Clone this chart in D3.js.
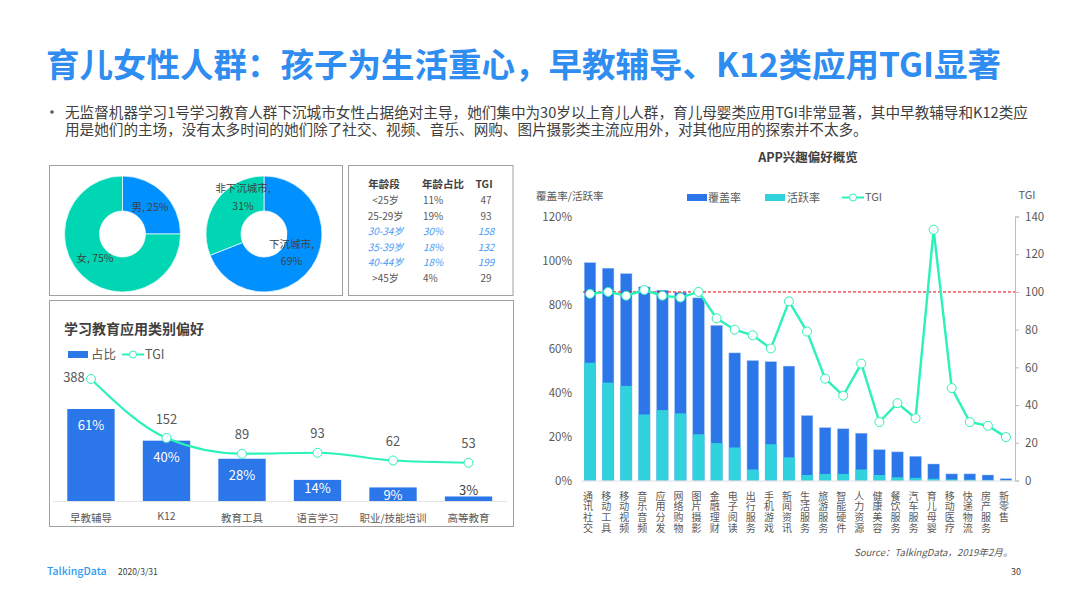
<!DOCTYPE html>
<html>
<head>
<meta charset="utf-8">
<script src="https://d3js.org/d3.v7.min.js"></script>
<style>
body { margin: 0; background: #fff; }
text { font-family: "Noto Sans CJK SC", "Open Sans", sans-serif; }
</style>
</head>
<body>
<svg id="page"></svg>
<script>
// right chart data
var appCategories = ["通讯社交","移动工具","移动视频","音乐音频","应用分发","网络购物","图片摄影","金融理财","电子阅读","出行服务","手机游戏","新闻资讯","生活服务","旅游服务","智能硬件","人力资源","健康美容","餐饮服务","汽车服务","育儿母婴","移动医疗","快递物流","房产服务","新零售"];
var coverage = [99,96.5,94,88,86.5,85.5,83,70.5,58,54.5,54,52,29.5,24,23.5,21.5,14,13,11,7.5,3,3,2.5,0.8];
var active = [53.5,44.5,43,30,32,30.5,21,17,15,5,16.5,10.5,2.5,3,3,5,2.5,1.5,1.2,0.8,0.5,0.4,0.3,0.1];
var appTgi = [99,100,98,101,98,97,100,86,80,77,70,95,79,54,45,62,31,41,33,133,49,31,29,23];
var leftTicks = [0,20,40,60,80,100,120];
var rightTicks = [0,20,40,60,80,100,120,140];

// education chart data
var eduCategories = ["早教辅导","K12","教育工具","语言学习","职业/技能培训","高等教育"];
var eduShare = [61,40,28,14,9,3];
var eduTgi = [388,152,89,93,62,53];

// donuts
var genderLabels = ["男, 25%","女, 75%"];
var genderValues = [25,75];
var cityValues = [69,31];

// age table
var ageHeader = ["年龄段","年龄占比","TGI"];
var ageGroups = ["<25岁","25-29岁","30-34岁","35-39岁","40-44岁",">45岁"];
var ageShare = ["11%","19%","30%","18%","18%","4%"];
var ageTgi = [47,93,158,132,199,29];
var ageHighlight = [false,false,true,true,true,false];

var blue = "#2b76e8", cyan = "#30d2de", mint = "#2af2b8", grey = "#595959", dark = "#404040";

var svg = d3.select("#page").attr("width", 1066).attr("height", 599);
svg.append("rect").attr("width", 1066).attr("height", 599).attr("fill", "#fff");

// title and intro
svg.append("text").attr("x", 46).attr("y", 77).attr("font-size", 33.5).attr("font-weight", 700)
	.attr("fill", "#2f8cf0").text("育儿女性人群：孩子为生活重心，早教辅导、K12类应用TGI显著");
svg.append("circle").attr("cx", 52).attr("cy", 112).attr("r", 1.8).attr("fill", grey);
svg.append("text").attr("x", 65).attr("y", 118).attr("font-size", 14.6).attr("fill", dark)
	.text("无监督机器学习1号学习教育人群下沉城市女性占据绝对主导，她们集中为30岁以上育儿人群，育儿母婴类应用TGI非常显著，其中早教辅导和K12类应");
svg.append("text").attr("x", 65).attr("y", 135).attr("font-size", 14.6).attr("fill", dark)
	.text("用是她们的主场，没有太多时间的她们除了社交、视频、音乐、网购、图片摄影类主流应用外，对其他应用的探索并不太多。");

// panel borders
[[49.5,165.5,293,130],[348.5,165.5,164.5,130],[49.5,300.5,464,226]].forEach(function(b) {
	svg.append("rect").attr("x", b[0]).attr("y", b[1]).attr("width", b[2]).attr("height", b[3])
		.attr("fill", "none").attr("stroke", "#a0a0a0").attr("stroke-width", 1);
});

// donuts
var pie = d3.pie().sort(null);
var arc = d3.arc().innerRadius(23).outerRadius(58);
function drawDonut(cx, values, colors) {
	svg.append("g").attr("transform", "translate(" + cx + ",234)")
		.selectAll("path").data(pie(values)).enter().append("path")
		.attr("d", arc).attr("fill", function(d, i) { return colors[i]; })
		.attr("stroke", "#fff").attr("stroke-width", 0.7);
}
drawDonut(122.5, genderValues, ["#0091ff", "#00d6b4"]);
drawDonut(264, cityValues, ["#0091ff", "#00d6b4"]);
function donutText(x, y, s) {
	svg.append("text").attr("x", x).attr("y", y).attr("font-size", 10.5).attr("fill", dark)
		.attr("text-anchor", "middle").text(s);
}
donutText(150, 211, genderLabels[0]);
donutText(95, 262, genderLabels[1]);
donutText(243, 192, "非下沉城市,");
donutText(243, 210, "31%");
donutText(291.5, 247.5, "下沉城市,");
donutText(291.5, 265, "69%");

// age table
var colX = [384, 443, 484];
ageHeader.forEach(function(h, i) {
	svg.append("text").attr("x", colX[i]).attr("y", 188).attr("font-size", 10.5).attr("font-weight", 700)
		.attr("fill", dark).attr("text-anchor", "middle").text(h);
});
var rowY = d3.scalePoint().domain(d3.range(6)).range([204, 282]);
var ageColX = [385.5, 423, 486];
var ageColAnchor = ["middle", "start", "middle"];
ageGroups.forEach(function(g, i) {
	[g, ageShare[i], ageTgi[i]].forEach(function(v, j) {
		svg.append("text").attr("x", ageColX[j]).attr("y", rowY(i)).attr("font-size", 10)
			.attr("text-anchor", ageColAnchor[j])
			.attr("font-style", ageHighlight[i] ? "italic" : "normal")
			.attr("fill", ageHighlight[i] ? "#4a9af5" : grey).text(v);
	});
});

// education chart
svg.append("text").attr("x", 64).attr("y", 334).attr("font-size", 14).attr("font-weight", 700)
	.attr("fill", dark).text("学习教育应用类别偏好");
svg.append("rect").attr("x", 68).attr("y", 351).attr("width", 20).attr("height", 7).attr("fill", blue);
svg.append("text").attr("x", 91).attr("y", 359).attr("font-size", 12.5).attr("fill", grey).text("占比");
svg.append("line").attr("x1", 122).attr("x2", 144).attr("y1", 354.5).attr("y2", 354.5).attr("stroke", mint).attr("stroke-width", 2);
svg.append("circle").attr("cx", 133).attr("cy", 354.5).attr("r", 3.5).attr("fill", "#fff").attr("stroke", mint);
svg.append("text").attr("x", 145).attr("y", 359).attr("font-size", 12.5).attr("fill", grey).text("TGI");

var eduX = d3.scaleBand().domain(eduCategories).range([53.25, 506.25]).paddingInner(0.373).paddingOuter(0.186);
var eduY = d3.scaleLinear().domain([0, 61]).range([501, 409]);
var eduTgiY = d3.scaleLinear().domain([0, 388]).range([476, 379]);
svg.append("line").attr("x1", 53).attr("x2", 507).attr("y1", 501.5).attr("y2", 501.5).attr("stroke", "#e4e4e4");
svg.selectAll(".edubar").data(eduCategories).enter().append("rect").attr("class", "edubar")
	.attr("x", function(d) { return eduX(d); }).attr("width", eduX.bandwidth())
	.attr("y", function(d, i) { return eduY(eduShare[i]); })
	.attr("height", function(d, i) { return 501 - eduY(eduShare[i]); })
	.attr("fill", blue);
svg.selectAll(".edushare").data(eduCategories).enter().append("text").attr("class", "edushare")
	.attr("x", function(d) { return eduX(d) + eduX.bandwidth() / 2; })
	.attr("y", function(d, i) {
		var top = eduY(eduShare[i]);
		if (eduShare[i] < 5) return top - 1;
		return eduShare[i] < 20 ? top + 13 : top + 21;
	})
	.attr("text-anchor", "middle").attr("font-size", 13)
	.attr("fill", function(d, i) { return eduShare[i] < 5 ? dark : "#fff"; })
	.text(function(d, i) { return eduShare[i] + "%"; });
var eduLine = d3.line().curve(d3.curveMonotoneX)
	.x(function(d, i) { return eduX(eduCategories[i]) + eduX.bandwidth() / 2; })
	.y(function(d) { return eduTgiY(d); });
svg.append("path").attr("d", eduLine(eduTgi)).attr("fill", "none").attr("stroke", mint).attr("stroke-width", 2.2);
eduTgi.forEach(function(v, i) {
	var x = eduX(eduCategories[i]) + eduX.bandwidth() / 2;
	svg.append("circle").attr("cx", x).attr("cy", eduTgiY(v)).attr("r", 4.5).attr("fill", "#fff").attr("stroke", mint);
	svg.append("text").attr("x", i == 0 ? x - 17 : x).attr("y", i == 0 ? eduTgiY(v) + 3 : eduTgiY(v) - 14.5)
		.attr("text-anchor", "middle").attr("font-size", 13).attr("fill", grey).text(v);
});
eduCategories.forEach(function(c) {
	svg.append("text").attr("x", eduX(c) + eduX.bandwidth() / 2).attr("y", c == "K12" ? 520 : 522).attr("text-anchor", "middle")
		.attr("font-size", 10.5).attr("fill", grey).text(c);
});

// app chart
svg.append("text").attr("x", 808).attr("y", 162).attr("text-anchor", "middle").attr("font-size", 12.5)
	.attr("font-weight", 700).attr("fill", dark).text("APP兴趣偏好概览");
svg.append("text").attr("x", 536).attr("y", 200).attr("font-size", 10.6).attr("fill", grey).text("覆盖率/活跃率");
svg.append("text").attr("x", 1027).attr("y", 199).attr("text-anchor", "middle").attr("font-size", 11).attr("fill", grey).text("TGI");
svg.append("rect").attr("x", 687).attr("y", 194).attr("width", 20).attr("height", 7).attr("fill", blue);
svg.append("text").attr("x", 708).attr("y", 202).attr("font-size", 11).attr("fill", grey).text("覆盖率");
svg.append("rect").attr("x", 765).attr("y", 194).attr("width", 20).attr("height", 7).attr("fill", cyan);
svg.append("text").attr("x", 787).attr("y", 202).attr("font-size", 11).attr("fill", grey).text("活跃率");
svg.append("line").attr("x1", 842).attr("x2", 864).attr("y1", 197.5).attr("y2", 197.5).attr("stroke", mint).attr("stroke-width", 2);
svg.append("circle").attr("cx", 853).attr("cy", 197.5).attr("r", 3.5).attr("fill", "#fff").attr("stroke", mint);
svg.append("text").attr("x", 865).attr("y", 201).attr("font-size", 11).attr("fill", grey).text("TGI");

var x = d3.scaleBand().domain(appCategories).range([581, 1015]).paddingInner(0.36).paddingOuter(0.18);
var y = d3.scaleLinear().domain([0, 120]).range([480.5, 216.5]);
var yTgi = d3.scaleLinear().domain([0, 140]).range([480.5, 216.5]);

svg.selectAll(".cover").data(appCategories).enter().append("rect").attr("class", "cover")
	.attr("x", function(d) { return x(d); }).attr("width", x.bandwidth())
	.attr("y", function(d, i) { return y(coverage[i]); })
	.attr("height", function(d, i) { return y(0) - y(coverage[i]); })
	.attr("fill", blue).attr("stroke", "#9cc0f5").attr("stroke-width", 0.5);
svg.selectAll(".act").data(appCategories).enter().append("rect").attr("class", "act")
	.attr("x", function(d) { return x(d); }).attr("width", x.bandwidth())
	.attr("y", function(d, i) { return y(active[i]); })
	.attr("height", function(d, i) { return y(0) - y(active[i]); })
	.attr("fill", cyan);

var axisLeft = svg.append("g").attr("transform", "translate(581,0)")
	.call(d3.axisLeft(y).tickValues(leftTicks).tickSize(0).tickPadding(9).tickFormat(function(d) { return d + "%"; }));
axisLeft.select(".domain").remove();
var axisRight = svg.append("g").attr("transform", "translate(1015,0)")
	.call(d3.axisRight(yTgi).tickValues(rightTicks).tickSizeOuter(0).tickSize(4).tickPadding(6));
axisRight.selectAll("path,line").attr("stroke", "#bdbdbd");
var axisBottom = svg.append("g").attr("transform", "translate(0,480.5)")
	.call(d3.axisBottom(x).tickSize(0));
axisBottom.select(".domain").attr("stroke", "#e0e0e0");
svg.selectAll("g.tick text").attr("font-size", 11.5).attr("fill", grey).style("font-family", '"Noto Sans CJK SC"');

// stack category names one character per line
axisBottom.selectAll(".tick text").each(function(d) {
	var t = d3.select(this).text(null).attr("y", 0).attr("dy", null).attr("font-size", 10);
	d.split("").forEach(function(ch, i) {
		t.append("tspan").attr("x", -2).attr("y", 19 + i * 10.9).text(ch);
	});
});

// reference line at TGI 100
svg.append("line").attr("x1", 583).attr("x2", 1015).attr("y1", yTgi(100)).attr("y2", yTgi(100))
	.attr("stroke", "#e8000b").attr("stroke-width", 1).attr("stroke-dasharray", "3,2");

var tgiLine = d3.line()
	.x(function(d, i) { return x(appCategories[i]) + x.bandwidth() / 2; })
	.y(function(d) { return yTgi(d); });
svg.append("path").attr("d", tgiLine(appTgi)).attr("fill", "none").attr("stroke", mint).attr("stroke-width", 2.4);
svg.selectAll(".dot").data(appTgi).enter().append("circle").attr("class", "dot")
	.attr("cx", function(d, i) { return x(appCategories[i]) + x.bandwidth() / 2; })
	.attr("cy", function(d) { return yTgi(d); })
	.attr("r", 4.5).attr("fill", "#fff").attr("stroke", mint);

// footer
svg.append("text").attr("x", 854).attr("y", 556).attr("font-size", 9.6).attr("font-style", "italic").attr("fill", grey)
	.text("Source：TalkingData，2019年2月。");
svg.append("text").attr("x", 47).attr("y", 575).attr("font-size", 10.5).attr("font-weight", 500).attr("fill", "#2f9bf0").text("TalkingData");
svg.append("text").attr("x", 118).attr("y", 575).attr("font-size", 8.5).attr("fill", dark).text("2020/3/31");
svg.append("text").attr("x", 1011).attr("y", 575).attr("font-size", 9).attr("fill", dark).text("30");
</script>
</body>
</html>
